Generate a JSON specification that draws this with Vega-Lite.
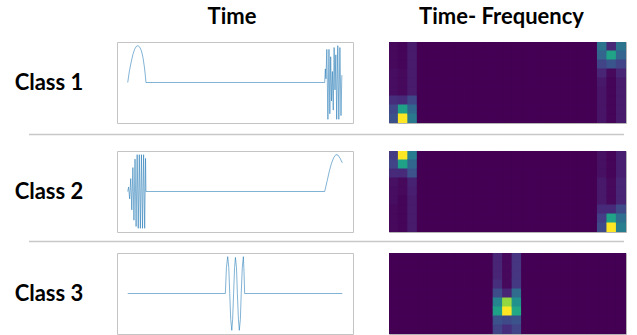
{
"$schema": "https://vega.github.io/schema/vega-lite/v6.json",
"autosize": {"type": "pad"},
"padding": {"left": 0, "top": 5, "right": 0, "bottom": 0},
"background": "white",
"config": {
  "view": {"stroke": "#c4c4c4", "strokeWidth": 1},
  "title": {"font": "Lato", "fontWeight": "bold", "fontSize": 22, "color": "#000000", "offset": 13}
},
"datasets": {
"labels": [{"p":1,"label":"Class 1"},{"p":2,"label":"Class 2"},{"p":3,"label":"Class 3"}],
"series": [
{"p":1,"t":0,"v":0},{"p":1,"t":0.008,"v":0.32},{"p":1,"t":0.016,"v":0.55},{"p":1,"t":0.024,"v":0.76},{"p":1,"t":0.032,"v":0.9},{"p":1,"t":0.04,"v":0.98},{"p":1,"t":0.048,"v":1.0},{"p":1,"t":0.056,"v":0.96},{"p":1,"t":0.064,"v":0.86},{"p":1,"t":0.071,"v":0.68},{"p":1,"t":0.077,"v":0.45},{"p":1,"t":0.081,"v":0.25},{"p":1,"t":0.085,"v":0},{"p":1,"t":0.918,"v":0},
{"p":1,"t":0.921,"v":0.37},{"p":1,"t":0.924,"v":0.1},{"p":1,"t":0.928,"v":0.9},{"p":1,"t":0.933,"v":-1.0},{"p":1,"t":0.938,"v":0.9},{"p":1,"t":0.942,"v":-0.85},{"p":1,"t":0.946,"v":0.7},{"p":1,"t":0.95,"v":-0.5},{"p":1,"t":0.954,"v":0.3},{"p":1,"t":0.958,"v":-0.75},{"p":1,"t":0.962,"v":0.95},{"p":1,"t":0.966,"v":-0.2},{"p":1,"t":0.97,"v":0.75},{"p":1,"t":0.974,"v":-1.0},{"p":1,"t":0.979,"v":1.0},{"p":1,"t":0.984,"v":-1.0},{"p":1,"t":0.989,"v":0.95},{"p":1,"t":0.994,"v":-0.9},{"p":1,"t":0.998,"v":0.2},
{"p":2,"t":0,"v":0},{"p":2,"t":0.004,"v":0.12},{"p":2,"t":0.009,"v":-0.2},{"p":2,"t":0.014,"v":0.35},{"p":2,"t":0.019,"v":-0.5},{"p":2,"t":0.024,"v":0.65},{"p":2,"t":0.029,"v":-0.78},{"p":2,"t":0.034,"v":0.88},{"p":2,"t":0.039,"v":-0.95},{"p":2,"t":0.044,"v":1.0},{"p":2,"t":0.049,"v":-1.0},{"p":2,"t":0.054,"v":1.0},{"p":2,"t":0.059,"v":-1.0},{"p":2,"t":0.064,"v":1.0},{"p":2,"t":0.069,"v":-1.0},{"p":2,"t":0.074,"v":1.0},{"p":2,"t":0.079,"v":-1.0},{"p":2,"t":0.083,"v":0.9},{"p":2,"t":0.085,"v":0},{"p":2,"t":0.918,"v":0},{"p":2,"t":0.93,"v":0.3},{"p":2,"t":0.94,"v":0.56},{"p":2,"t":0.95,"v":0.77},{"p":2,"t":0.96,"v":0.92},{"p":2,"t":0.97,"v":1.0},{"p":2,"t":0.98,"v":0.99},{"p":2,"t":0.99,"v":0.9},{"p":2,"t":1.0,"v":0.78},
{"p":3,"t":0,"v":0},{"p":3,"t":0.455,"v":0},{"p":3,"t":0.46,"v":0.7},{"p":3,"t":0.466,"v":1.0},{"p":3,"t":0.471,"v":0.7},{"p":3,"t":0.4755,"v":0},{"p":3,"t":0.48,"v":-0.7},{"p":3,"t":0.485,"v":-1.0},{"p":3,"t":0.489,"v":-0.7},{"p":3,"t":0.4935,"v":0},{"p":3,"t":0.498,"v":0.7},{"p":3,"t":0.502,"v":0.98},{"p":3,"t":0.507,"v":0.7},{"p":3,"t":0.511,"v":0},{"p":3,"t":0.516,"v":-0.7},{"p":3,"t":0.52,"v":-1.0},{"p":3,"t":0.525,"v":-0.7},{"p":3,"t":0.529,"v":0},{"p":3,"t":0.534,"v":0.7},{"p":3,"t":0.539,"v":1.0},{"p":3,"t":0.542,"v":0.6},{"p":3,"t":0.545,"v":0},{"p":3,"t":1.0,"v":0}
],
"tf": [
{"p":1,"c":0,"r":0,"v":0.02},{"p":1,"c":0,"r":1,"v":0.02},{"p":1,"c":0,"r":2,"v":0.02},{"p":1,"c":0,"r":3,"v":0.03},{"p":1,"c":0,"r":4,"v":0.03},{"p":1,"c":0,"r":5,"v":0.03},{"p":1,"c":0,"r":6,"v":0.13},{"p":1,"c":0,"r":7,"v":0.21},{"p":1,"c":0,"r":8,"v":0.24},
{"p":1,"c":1,"r":0,"v":0.01},{"p":1,"c":1,"r":1,"v":0.01},{"p":1,"c":1,"r":2,"v":0.01},{"p":1,"c":1,"r":3,"v":0.02},{"p":1,"c":1,"r":4,"v":0.02},{"p":1,"c":1,"r":5,"v":0.02},{"p":1,"c":1,"r":6,"v":0.12},{"p":1,"c":1,"r":7,"v":0.57},{"p":1,"c":1,"r":8,"v":1},
{"p":1,"c":2,"r":0,"v":0.07},{"p":1,"c":2,"r":1,"v":0.07},{"p":1,"c":2,"r":2,"v":0.07},{"p":1,"c":2,"r":3,"v":0.07},{"p":1,"c":2,"r":4,"v":0.07},{"p":1,"c":2,"r":5,"v":0.07},{"p":1,"c":2,"r":6,"v":0.21},{"p":1,"c":2,"r":7,"v":0.33},{"p":1,"c":2,"r":8,"v":0.4},
{"p":1,"c":3,"r":0,"v":0},{"p":1,"c":3,"r":1,"v":0},{"p":1,"c":3,"r":2,"v":0},{"p":1,"c":3,"r":3,"v":0},{"p":1,"c":3,"r":4,"v":0},{"p":1,"c":3,"r":5,"v":0},{"p":1,"c":3,"r":6,"v":0},{"p":1,"c":3,"r":7,"v":0},{"p":1,"c":3,"r":8,"v":0},
{"p":1,"c":4,"r":0,"v":0},{"p":1,"c":4,"r":1,"v":0},{"p":1,"c":4,"r":2,"v":0},{"p":1,"c":4,"r":3,"v":0},{"p":1,"c":4,"r":4,"v":0},{"p":1,"c":4,"r":5,"v":0},{"p":1,"c":4,"r":6,"v":0},{"p":1,"c":4,"r":7,"v":0},{"p":1,"c":4,"r":8,"v":0},
{"p":1,"c":5,"r":0,"v":0},{"p":1,"c":5,"r":1,"v":0},{"p":1,"c":5,"r":2,"v":0},{"p":1,"c":5,"r":3,"v":0},{"p":1,"c":5,"r":4,"v":0},{"p":1,"c":5,"r":5,"v":0},{"p":1,"c":5,"r":6,"v":0},{"p":1,"c":5,"r":7,"v":0},{"p":1,"c":5,"r":8,"v":0},
{"p":1,"c":6,"r":0,"v":0},{"p":1,"c":6,"r":1,"v":0},{"p":1,"c":6,"r":2,"v":0},{"p":1,"c":6,"r":3,"v":0},{"p":1,"c":6,"r":4,"v":0},{"p":1,"c":6,"r":5,"v":0},{"p":1,"c":6,"r":6,"v":0},{"p":1,"c":6,"r":7,"v":0},{"p":1,"c":6,"r":8,"v":0},
{"p":1,"c":7,"r":0,"v":0},{"p":1,"c":7,"r":1,"v":0},{"p":1,"c":7,"r":2,"v":0},{"p":1,"c":7,"r":3,"v":0},{"p":1,"c":7,"r":4,"v":0},{"p":1,"c":7,"r":5,"v":0},{"p":1,"c":7,"r":6,"v":0},{"p":1,"c":7,"r":7,"v":0},{"p":1,"c":7,"r":8,"v":0},
{"p":1,"c":8,"r":0,"v":0},{"p":1,"c":8,"r":1,"v":0},{"p":1,"c":8,"r":2,"v":0},{"p":1,"c":8,"r":3,"v":0},{"p":1,"c":8,"r":4,"v":0},{"p":1,"c":8,"r":5,"v":0},{"p":1,"c":8,"r":6,"v":0},{"p":1,"c":8,"r":7,"v":0},{"p":1,"c":8,"r":8,"v":0},
{"p":1,"c":9,"r":0,"v":0},{"p":1,"c":9,"r":1,"v":0},{"p":1,"c":9,"r":2,"v":0},{"p":1,"c":9,"r":3,"v":0},{"p":1,"c":9,"r":4,"v":0},{"p":1,"c":9,"r":5,"v":0},{"p":1,"c":9,"r":6,"v":0},{"p":1,"c":9,"r":7,"v":0},{"p":1,"c":9,"r":8,"v":0},
{"p":1,"c":10,"r":0,"v":0},{"p":1,"c":10,"r":1,"v":0},{"p":1,"c":10,"r":2,"v":0},{"p":1,"c":10,"r":3,"v":0},{"p":1,"c":10,"r":4,"v":0},{"p":1,"c":10,"r":5,"v":0},{"p":1,"c":10,"r":6,"v":0},{"p":1,"c":10,"r":7,"v":0},{"p":1,"c":10,"r":8,"v":0},
{"p":1,"c":11,"r":0,"v":0},{"p":1,"c":11,"r":1,"v":0},{"p":1,"c":11,"r":2,"v":0},{"p":1,"c":11,"r":3,"v":0},{"p":1,"c":11,"r":4,"v":0},{"p":1,"c":11,"r":5,"v":0},{"p":1,"c":11,"r":6,"v":0},{"p":1,"c":11,"r":7,"v":0},{"p":1,"c":11,"r":8,"v":0},
{"p":1,"c":12,"r":0,"v":0},{"p":1,"c":12,"r":1,"v":0},{"p":1,"c":12,"r":2,"v":0},{"p":1,"c":12,"r":3,"v":0},{"p":1,"c":12,"r":4,"v":0},{"p":1,"c":12,"r":5,"v":0},{"p":1,"c":12,"r":6,"v":0},{"p":1,"c":12,"r":7,"v":0},{"p":1,"c":12,"r":8,"v":0},
{"p":1,"c":13,"r":0,"v":0},{"p":1,"c":13,"r":1,"v":0},{"p":1,"c":13,"r":2,"v":0},{"p":1,"c":13,"r":3,"v":0},{"p":1,"c":13,"r":4,"v":0},{"p":1,"c":13,"r":5,"v":0},{"p":1,"c":13,"r":6,"v":0},{"p":1,"c":13,"r":7,"v":0},{"p":1,"c":13,"r":8,"v":0},
{"p":1,"c":14,"r":0,"v":0},{"p":1,"c":14,"r":1,"v":0},{"p":1,"c":14,"r":2,"v":0},{"p":1,"c":14,"r":3,"v":0},{"p":1,"c":14,"r":4,"v":0},{"p":1,"c":14,"r":5,"v":0},{"p":1,"c":14,"r":6,"v":0},{"p":1,"c":14,"r":7,"v":0},{"p":1,"c":14,"r":8,"v":0},
{"p":1,"c":15,"r":0,"v":0},{"p":1,"c":15,"r":1,"v":0},{"p":1,"c":15,"r":2,"v":0},{"p":1,"c":15,"r":3,"v":0},{"p":1,"c":15,"r":4,"v":0},{"p":1,"c":15,"r":5,"v":0},{"p":1,"c":15,"r":6,"v":0},{"p":1,"c":15,"r":7,"v":0},{"p":1,"c":15,"r":8,"v":0},
{"p":1,"c":16,"r":0,"v":0},{"p":1,"c":16,"r":1,"v":0},{"p":1,"c":16,"r":2,"v":0},{"p":1,"c":16,"r":3,"v":0},{"p":1,"c":16,"r":4,"v":0},{"p":1,"c":16,"r":5,"v":0},{"p":1,"c":16,"r":6,"v":0},{"p":1,"c":16,"r":7,"v":0},{"p":1,"c":16,"r":8,"v":0},
{"p":1,"c":17,"r":0,"v":0},{"p":1,"c":17,"r":1,"v":0},{"p":1,"c":17,"r":2,"v":0},{"p":1,"c":17,"r":3,"v":0},{"p":1,"c":17,"r":4,"v":0},{"p":1,"c":17,"r":5,"v":0},{"p":1,"c":17,"r":6,"v":0},{"p":1,"c":17,"r":7,"v":0},{"p":1,"c":17,"r":8,"v":0},
{"p":1,"c":18,"r":0,"v":0},{"p":1,"c":18,"r":1,"v":0},{"p":1,"c":18,"r":2,"v":0},{"p":1,"c":18,"r":3,"v":0},{"p":1,"c":18,"r":4,"v":0},{"p":1,"c":18,"r":5,"v":0},{"p":1,"c":18,"r":6,"v":0},{"p":1,"c":18,"r":7,"v":0},{"p":1,"c":18,"r":8,"v":0},
{"p":1,"c":19,"r":0,"v":0},{"p":1,"c":19,"r":1,"v":0},{"p":1,"c":19,"r":2,"v":0},{"p":1,"c":19,"r":3,"v":0},{"p":1,"c":19,"r":4,"v":0},{"p":1,"c":19,"r":5,"v":0},{"p":1,"c":19,"r":6,"v":0},{"p":1,"c":19,"r":7,"v":0},{"p":1,"c":19,"r":8,"v":0},
{"p":1,"c":20,"r":0,"v":0},{"p":1,"c":20,"r":1,"v":0},{"p":1,"c":20,"r":2,"v":0},{"p":1,"c":20,"r":3,"v":0},{"p":1,"c":20,"r":4,"v":0},{"p":1,"c":20,"r":5,"v":0},{"p":1,"c":20,"r":6,"v":0},{"p":1,"c":20,"r":7,"v":0},{"p":1,"c":20,"r":8,"v":0},
{"p":1,"c":21,"r":0,"v":0},{"p":1,"c":21,"r":1,"v":0},{"p":1,"c":21,"r":2,"v":0},{"p":1,"c":21,"r":3,"v":0},{"p":1,"c":21,"r":4,"v":0},{"p":1,"c":21,"r":5,"v":0},{"p":1,"c":21,"r":6,"v":0},{"p":1,"c":21,"r":7,"v":0},{"p":1,"c":21,"r":8,"v":0},
{"p":1,"c":22,"r":0,"v":0.38},{"p":1,"c":22,"r":1,"v":0.32},{"p":1,"c":22,"r":2,"v":0.2},{"p":1,"c":22,"r":3,"v":0.1},{"p":1,"c":22,"r":4,"v":0.06},{"p":1,"c":22,"r":5,"v":0.05},{"p":1,"c":22,"r":6,"v":0.05},{"p":1,"c":22,"r":7,"v":0.05},{"p":1,"c":22,"r":8,"v":0.05},
{"p":1,"c":23,"r":0,"v":0.11},{"p":1,"c":23,"r":1,"v":0.58},{"p":1,"c":23,"r":2,"v":0.26},{"p":1,"c":23,"r":3,"v":0.02},{"p":1,"c":23,"r":4,"v":0.01},{"p":1,"c":23,"r":5,"v":0.01},{"p":1,"c":23,"r":6,"v":0.01},{"p":1,"c":23,"r":7,"v":0.01},{"p":1,"c":23,"r":8,"v":0.01},
{"p":1,"c":24,"r":0,"v":0.38},{"p":1,"c":24,"r":1,"v":0.32},{"p":1,"c":24,"r":2,"v":0.2},{"p":1,"c":24,"r":3,"v":0.1},{"p":1,"c":24,"r":4,"v":0.07},{"p":1,"c":24,"r":5,"v":0.07},{"p":1,"c":24,"r":6,"v":0.07},{"p":1,"c":24,"r":7,"v":0.07},{"p":1,"c":24,"r":8,"v":0.07},

{"p":2,"c":0,"r":0,"v":0.17},{"p":2,"c":0,"r":1,"v":0.2},{"p":2,"c":0,"r":2,"v":0.12},{"p":2,"c":0,"r":3,"v":0.04},{"p":2,"c":0,"r":4,"v":0.03},{"p":2,"c":0,"r":5,"v":0.03},{"p":2,"c":0,"r":6,"v":0.02},{"p":2,"c":0,"r":7,"v":0.02},{"p":2,"c":0,"r":8,"v":0.02},
{"p":2,"c":1,"r":0,"v":1},{"p":2,"c":1,"r":1,"v":0.57},{"p":2,"c":1,"r":2,"v":0.12},{"p":2,"c":1,"r":3,"v":0.02},{"p":2,"c":1,"r":4,"v":0.02},{"p":2,"c":1,"r":5,"v":0.01},{"p":2,"c":1,"r":6,"v":0.01},{"p":2,"c":1,"r":7,"v":0.01},{"p":2,"c":1,"r":8,"v":0.01},
{"p":2,"c":2,"r":0,"v":0.42},{"p":2,"c":2,"r":1,"v":0.33},{"p":2,"c":2,"r":2,"v":0.25},{"p":2,"c":2,"r":3,"v":0.09},{"p":2,"c":2,"r":4,"v":0.08},{"p":2,"c":2,"r":5,"v":0.07},{"p":2,"c":2,"r":6,"v":0.07},{"p":2,"c":2,"r":7,"v":0.07},{"p":2,"c":2,"r":8,"v":0.07},
{"p":2,"c":3,"r":0,"v":0},{"p":2,"c":3,"r":1,"v":0},{"p":2,"c":3,"r":2,"v":0},{"p":2,"c":3,"r":3,"v":0},{"p":2,"c":3,"r":4,"v":0},{"p":2,"c":3,"r":5,"v":0},{"p":2,"c":3,"r":6,"v":0},{"p":2,"c":3,"r":7,"v":0},{"p":2,"c":3,"r":8,"v":0},
{"p":2,"c":4,"r":0,"v":0},{"p":2,"c":4,"r":1,"v":0},{"p":2,"c":4,"r":2,"v":0},{"p":2,"c":4,"r":3,"v":0},{"p":2,"c":4,"r":4,"v":0},{"p":2,"c":4,"r":5,"v":0},{"p":2,"c":4,"r":6,"v":0},{"p":2,"c":4,"r":7,"v":0},{"p":2,"c":4,"r":8,"v":0},
{"p":2,"c":5,"r":0,"v":0},{"p":2,"c":5,"r":1,"v":0},{"p":2,"c":5,"r":2,"v":0},{"p":2,"c":5,"r":3,"v":0},{"p":2,"c":5,"r":4,"v":0},{"p":2,"c":5,"r":5,"v":0},{"p":2,"c":5,"r":6,"v":0},{"p":2,"c":5,"r":7,"v":0},{"p":2,"c":5,"r":8,"v":0},
{"p":2,"c":6,"r":0,"v":0},{"p":2,"c":6,"r":1,"v":0},{"p":2,"c":6,"r":2,"v":0},{"p":2,"c":6,"r":3,"v":0},{"p":2,"c":6,"r":4,"v":0},{"p":2,"c":6,"r":5,"v":0},{"p":2,"c":6,"r":6,"v":0},{"p":2,"c":6,"r":7,"v":0},{"p":2,"c":6,"r":8,"v":0},
{"p":2,"c":7,"r":0,"v":0},{"p":2,"c":7,"r":1,"v":0},{"p":2,"c":7,"r":2,"v":0},{"p":2,"c":7,"r":3,"v":0},{"p":2,"c":7,"r":4,"v":0},{"p":2,"c":7,"r":5,"v":0},{"p":2,"c":7,"r":6,"v":0},{"p":2,"c":7,"r":7,"v":0},{"p":2,"c":7,"r":8,"v":0},
{"p":2,"c":8,"r":0,"v":0},{"p":2,"c":8,"r":1,"v":0},{"p":2,"c":8,"r":2,"v":0},{"p":2,"c":8,"r":3,"v":0},{"p":2,"c":8,"r":4,"v":0},{"p":2,"c":8,"r":5,"v":0},{"p":2,"c":8,"r":6,"v":0},{"p":2,"c":8,"r":7,"v":0},{"p":2,"c":8,"r":8,"v":0},
{"p":2,"c":9,"r":0,"v":0},{"p":2,"c":9,"r":1,"v":0},{"p":2,"c":9,"r":2,"v":0},{"p":2,"c":9,"r":3,"v":0},{"p":2,"c":9,"r":4,"v":0},{"p":2,"c":9,"r":5,"v":0},{"p":2,"c":9,"r":6,"v":0},{"p":2,"c":9,"r":7,"v":0},{"p":2,"c":9,"r":8,"v":0},
{"p":2,"c":10,"r":0,"v":0},{"p":2,"c":10,"r":1,"v":0},{"p":2,"c":10,"r":2,"v":0},{"p":2,"c":10,"r":3,"v":0},{"p":2,"c":10,"r":4,"v":0},{"p":2,"c":10,"r":5,"v":0},{"p":2,"c":10,"r":6,"v":0},{"p":2,"c":10,"r":7,"v":0},{"p":2,"c":10,"r":8,"v":0},
{"p":2,"c":11,"r":0,"v":0},{"p":2,"c":11,"r":1,"v":0},{"p":2,"c":11,"r":2,"v":0},{"p":2,"c":11,"r":3,"v":0},{"p":2,"c":11,"r":4,"v":0},{"p":2,"c":11,"r":5,"v":0},{"p":2,"c":11,"r":6,"v":0},{"p":2,"c":11,"r":7,"v":0},{"p":2,"c":11,"r":8,"v":0},
{"p":2,"c":12,"r":0,"v":0},{"p":2,"c":12,"r":1,"v":0},{"p":2,"c":12,"r":2,"v":0},{"p":2,"c":12,"r":3,"v":0},{"p":2,"c":12,"r":4,"v":0},{"p":2,"c":12,"r":5,"v":0},{"p":2,"c":12,"r":6,"v":0},{"p":2,"c":12,"r":7,"v":0},{"p":2,"c":12,"r":8,"v":0},
{"p":2,"c":13,"r":0,"v":0},{"p":2,"c":13,"r":1,"v":0},{"p":2,"c":13,"r":2,"v":0},{"p":2,"c":13,"r":3,"v":0},{"p":2,"c":13,"r":4,"v":0},{"p":2,"c":13,"r":5,"v":0},{"p":2,"c":13,"r":6,"v":0},{"p":2,"c":13,"r":7,"v":0},{"p":2,"c":13,"r":8,"v":0},
{"p":2,"c":14,"r":0,"v":0},{"p":2,"c":14,"r":1,"v":0},{"p":2,"c":14,"r":2,"v":0},{"p":2,"c":14,"r":3,"v":0},{"p":2,"c":14,"r":4,"v":0},{"p":2,"c":14,"r":5,"v":0},{"p":2,"c":14,"r":6,"v":0},{"p":2,"c":14,"r":7,"v":0},{"p":2,"c":14,"r":8,"v":0},
{"p":2,"c":15,"r":0,"v":0},{"p":2,"c":15,"r":1,"v":0},{"p":2,"c":15,"r":2,"v":0},{"p":2,"c":15,"r":3,"v":0},{"p":2,"c":15,"r":4,"v":0},{"p":2,"c":15,"r":5,"v":0},{"p":2,"c":15,"r":6,"v":0},{"p":2,"c":15,"r":7,"v":0},{"p":2,"c":15,"r":8,"v":0},
{"p":2,"c":16,"r":0,"v":0},{"p":2,"c":16,"r":1,"v":0},{"p":2,"c":16,"r":2,"v":0},{"p":2,"c":16,"r":3,"v":0},{"p":2,"c":16,"r":4,"v":0},{"p":2,"c":16,"r":5,"v":0},{"p":2,"c":16,"r":6,"v":0},{"p":2,"c":16,"r":7,"v":0},{"p":2,"c":16,"r":8,"v":0},
{"p":2,"c":17,"r":0,"v":0},{"p":2,"c":17,"r":1,"v":0},{"p":2,"c":17,"r":2,"v":0},{"p":2,"c":17,"r":3,"v":0},{"p":2,"c":17,"r":4,"v":0},{"p":2,"c":17,"r":5,"v":0},{"p":2,"c":17,"r":6,"v":0},{"p":2,"c":17,"r":7,"v":0},{"p":2,"c":17,"r":8,"v":0},
{"p":2,"c":18,"r":0,"v":0},{"p":2,"c":18,"r":1,"v":0},{"p":2,"c":18,"r":2,"v":0},{"p":2,"c":18,"r":3,"v":0},{"p":2,"c":18,"r":4,"v":0},{"p":2,"c":18,"r":5,"v":0},{"p":2,"c":18,"r":6,"v":0},{"p":2,"c":18,"r":7,"v":0},{"p":2,"c":18,"r":8,"v":0},
{"p":2,"c":19,"r":0,"v":0},{"p":2,"c":19,"r":1,"v":0},{"p":2,"c":19,"r":2,"v":0},{"p":2,"c":19,"r":3,"v":0},{"p":2,"c":19,"r":4,"v":0},{"p":2,"c":19,"r":5,"v":0},{"p":2,"c":19,"r":6,"v":0},{"p":2,"c":19,"r":7,"v":0},{"p":2,"c":19,"r":8,"v":0},
{"p":2,"c":20,"r":0,"v":0},{"p":2,"c":20,"r":1,"v":0},{"p":2,"c":20,"r":2,"v":0},{"p":2,"c":20,"r":3,"v":0},{"p":2,"c":20,"r":4,"v":0},{"p":2,"c":20,"r":5,"v":0},{"p":2,"c":20,"r":6,"v":0},{"p":2,"c":20,"r":7,"v":0},{"p":2,"c":20,"r":8,"v":0},
{"p":2,"c":21,"r":0,"v":0},{"p":2,"c":21,"r":1,"v":0},{"p":2,"c":21,"r":2,"v":0},{"p":2,"c":21,"r":3,"v":0},{"p":2,"c":21,"r":4,"v":0},{"p":2,"c":21,"r":5,"v":0},{"p":2,"c":21,"r":6,"v":0},{"p":2,"c":21,"r":7,"v":0},{"p":2,"c":21,"r":8,"v":0},
{"p":2,"c":22,"r":0,"v":0.04},{"p":2,"c":22,"r":1,"v":0.04},{"p":2,"c":22,"r":2,"v":0.04},{"p":2,"c":22,"r":3,"v":0.06},{"p":2,"c":22,"r":4,"v":0.06},{"p":2,"c":22,"r":5,"v":0.06},{"p":2,"c":22,"r":6,"v":0.12},{"p":2,"c":22,"r":7,"v":0.18},{"p":2,"c":22,"r":8,"v":0.22},
{"p":2,"c":23,"r":0,"v":0.01},{"p":2,"c":23,"r":1,"v":0.01},{"p":2,"c":23,"r":2,"v":0.01},{"p":2,"c":23,"r":3,"v":0.02},{"p":2,"c":23,"r":4,"v":0.02},{"p":2,"c":23,"r":5,"v":0.02},{"p":2,"c":23,"r":6,"v":0.12},{"p":2,"c":23,"r":7,"v":0.58},{"p":2,"c":23,"r":8,"v":1},
{"p":2,"c":24,"r":0,"v":0.08},{"p":2,"c":24,"r":1,"v":0.08},{"p":2,"c":24,"r":2,"v":0.08},{"p":2,"c":24,"r":3,"v":0.1},{"p":2,"c":24,"r":4,"v":0.1},{"p":2,"c":24,"r":5,"v":0.1},{"p":2,"c":24,"r":6,"v":0.22},{"p":2,"c":24,"r":7,"v":0.36},{"p":2,"c":24,"r":8,"v":0.42},

{"p":3,"c":0,"r":0,"v":0},{"p":3,"c":0,"r":1,"v":0},{"p":3,"c":0,"r":2,"v":0},{"p":3,"c":0,"r":3,"v":0},{"p":3,"c":0,"r":4,"v":0},{"p":3,"c":0,"r":5,"v":0},{"p":3,"c":0,"r":6,"v":0},{"p":3,"c":0,"r":7,"v":0},{"p":3,"c":0,"r":8,"v":0},
{"p":3,"c":1,"r":0,"v":0},{"p":3,"c":1,"r":1,"v":0},{"p":3,"c":1,"r":2,"v":0},{"p":3,"c":1,"r":3,"v":0},{"p":3,"c":1,"r":4,"v":0},{"p":3,"c":1,"r":5,"v":0},{"p":3,"c":1,"r":6,"v":0},{"p":3,"c":1,"r":7,"v":0},{"p":3,"c":1,"r":8,"v":0},
{"p":3,"c":2,"r":0,"v":0},{"p":3,"c":2,"r":1,"v":0},{"p":3,"c":2,"r":2,"v":0},{"p":3,"c":2,"r":3,"v":0},{"p":3,"c":2,"r":4,"v":0},{"p":3,"c":2,"r":5,"v":0},{"p":3,"c":2,"r":6,"v":0},{"p":3,"c":2,"r":7,"v":0},{"p":3,"c":2,"r":8,"v":0},
{"p":3,"c":3,"r":0,"v":0},{"p":3,"c":3,"r":1,"v":0},{"p":3,"c":3,"r":2,"v":0},{"p":3,"c":3,"r":3,"v":0},{"p":3,"c":3,"r":4,"v":0},{"p":3,"c":3,"r":5,"v":0},{"p":3,"c":3,"r":6,"v":0},{"p":3,"c":3,"r":7,"v":0},{"p":3,"c":3,"r":8,"v":0},
{"p":3,"c":4,"r":0,"v":0},{"p":3,"c":4,"r":1,"v":0},{"p":3,"c":4,"r":2,"v":0},{"p":3,"c":4,"r":3,"v":0},{"p":3,"c":4,"r":4,"v":0},{"p":3,"c":4,"r":5,"v":0},{"p":3,"c":4,"r":6,"v":0},{"p":3,"c":4,"r":7,"v":0},{"p":3,"c":4,"r":8,"v":0},
{"p":3,"c":5,"r":0,"v":0},{"p":3,"c":5,"r":1,"v":0},{"p":3,"c":5,"r":2,"v":0},{"p":3,"c":5,"r":3,"v":0},{"p":3,"c":5,"r":4,"v":0},{"p":3,"c":5,"r":5,"v":0},{"p":3,"c":5,"r":6,"v":0},{"p":3,"c":5,"r":7,"v":0},{"p":3,"c":5,"r":8,"v":0},
{"p":3,"c":6,"r":0,"v":0},{"p":3,"c":6,"r":1,"v":0},{"p":3,"c":6,"r":2,"v":0},{"p":3,"c":6,"r":3,"v":0},{"p":3,"c":6,"r":4,"v":0},{"p":3,"c":6,"r":5,"v":0},{"p":3,"c":6,"r":6,"v":0},{"p":3,"c":6,"r":7,"v":0},{"p":3,"c":6,"r":8,"v":0},
{"p":3,"c":7,"r":0,"v":0},{"p":3,"c":7,"r":1,"v":0},{"p":3,"c":7,"r":2,"v":0},{"p":3,"c":7,"r":3,"v":0},{"p":3,"c":7,"r":4,"v":0},{"p":3,"c":7,"r":5,"v":0},{"p":3,"c":7,"r":6,"v":0},{"p":3,"c":7,"r":7,"v":0},{"p":3,"c":7,"r":8,"v":0},
{"p":3,"c":8,"r":0,"v":0},{"p":3,"c":8,"r":1,"v":0},{"p":3,"c":8,"r":2,"v":0},{"p":3,"c":8,"r":3,"v":0},{"p":3,"c":8,"r":4,"v":0},{"p":3,"c":8,"r":5,"v":0},{"p":3,"c":8,"r":6,"v":0},{"p":3,"c":8,"r":7,"v":0},{"p":3,"c":8,"r":8,"v":0},
{"p":3,"c":9,"r":0,"v":0},{"p":3,"c":9,"r":1,"v":0},{"p":3,"c":9,"r":2,"v":0},{"p":3,"c":9,"r":3,"v":0},{"p":3,"c":9,"r":4,"v":0},{"p":3,"c":9,"r":5,"v":0},{"p":3,"c":9,"r":6,"v":0},{"p":3,"c":9,"r":7,"v":0},{"p":3,"c":9,"r":8,"v":0},
{"p":3,"c":10,"r":0,"v":0},{"p":3,"c":10,"r":1,"v":0},{"p":3,"c":10,"r":2,"v":0},{"p":3,"c":10,"r":3,"v":0},{"p":3,"c":10,"r":4,"v":0},{"p":3,"c":10,"r":5,"v":0},{"p":3,"c":10,"r":6,"v":0},{"p":3,"c":10,"r":7,"v":0},{"p":3,"c":10,"r":8,"v":0},
{"p":3,"c":11,"r":0,"v":0.1},{"p":3,"c":11,"r":1,"v":0.1},{"p":3,"c":11,"r":2,"v":0.1},{"p":3,"c":11,"r":3,"v":0.13},{"p":3,"c":11,"r":4,"v":0.23},{"p":3,"c":11,"r":5,"v":0.45},{"p":3,"c":11,"r":6,"v":0.57},{"p":3,"c":11,"r":7,"v":0.25},{"p":3,"c":11,"r":8,"v":0.2},
{"p":3,"c":12,"r":0,"v":0.02},{"p":3,"c":12,"r":1,"v":0.02},{"p":3,"c":12,"r":2,"v":0.02},{"p":3,"c":12,"r":3,"v":0.02},{"p":3,"c":12,"r":4,"v":0.1},{"p":3,"c":12,"r":5,"v":0.84},{"p":3,"c":12,"r":6,"v":1},{"p":3,"c":12,"r":7,"v":0.22},{"p":3,"c":12,"r":8,"v":0.13},
{"p":3,"c":13,"r":0,"v":0.15},{"p":3,"c":13,"r":1,"v":0.15},{"p":3,"c":13,"r":2,"v":0.15},{"p":3,"c":13,"r":3,"v":0.16},{"p":3,"c":13,"r":4,"v":0.35},{"p":3,"c":13,"r":5,"v":0.5},{"p":3,"c":13,"r":6,"v":0.6},{"p":3,"c":13,"r":7,"v":0.25},{"p":3,"c":13,"r":8,"v":0.2},
{"p":3,"c":14,"r":0,"v":0},{"p":3,"c":14,"r":1,"v":0},{"p":3,"c":14,"r":2,"v":0},{"p":3,"c":14,"r":3,"v":0},{"p":3,"c":14,"r":4,"v":0},{"p":3,"c":14,"r":5,"v":0},{"p":3,"c":14,"r":6,"v":0},{"p":3,"c":14,"r":7,"v":0},{"p":3,"c":14,"r":8,"v":0},
{"p":3,"c":15,"r":0,"v":0},{"p":3,"c":15,"r":1,"v":0},{"p":3,"c":15,"r":2,"v":0},{"p":3,"c":15,"r":3,"v":0},{"p":3,"c":15,"r":4,"v":0},{"p":3,"c":15,"r":5,"v":0},{"p":3,"c":15,"r":6,"v":0},{"p":3,"c":15,"r":7,"v":0},{"p":3,"c":15,"r":8,"v":0},
{"p":3,"c":16,"r":0,"v":0},{"p":3,"c":16,"r":1,"v":0},{"p":3,"c":16,"r":2,"v":0},{"p":3,"c":16,"r":3,"v":0},{"p":3,"c":16,"r":4,"v":0},{"p":3,"c":16,"r":5,"v":0},{"p":3,"c":16,"r":6,"v":0},{"p":3,"c":16,"r":7,"v":0},{"p":3,"c":16,"r":8,"v":0},
{"p":3,"c":17,"r":0,"v":0},{"p":3,"c":17,"r":1,"v":0},{"p":3,"c":17,"r":2,"v":0},{"p":3,"c":17,"r":3,"v":0},{"p":3,"c":17,"r":4,"v":0},{"p":3,"c":17,"r":5,"v":0},{"p":3,"c":17,"r":6,"v":0},{"p":3,"c":17,"r":7,"v":0},{"p":3,"c":17,"r":8,"v":0},
{"p":3,"c":18,"r":0,"v":0},{"p":3,"c":18,"r":1,"v":0},{"p":3,"c":18,"r":2,"v":0},{"p":3,"c":18,"r":3,"v":0},{"p":3,"c":18,"r":4,"v":0},{"p":3,"c":18,"r":5,"v":0},{"p":3,"c":18,"r":6,"v":0},{"p":3,"c":18,"r":7,"v":0},{"p":3,"c":18,"r":8,"v":0},
{"p":3,"c":19,"r":0,"v":0},{"p":3,"c":19,"r":1,"v":0},{"p":3,"c":19,"r":2,"v":0},{"p":3,"c":19,"r":3,"v":0},{"p":3,"c":19,"r":4,"v":0},{"p":3,"c":19,"r":5,"v":0},{"p":3,"c":19,"r":6,"v":0},{"p":3,"c":19,"r":7,"v":0},{"p":3,"c":19,"r":8,"v":0},
{"p":3,"c":20,"r":0,"v":0},{"p":3,"c":20,"r":1,"v":0},{"p":3,"c":20,"r":2,"v":0},{"p":3,"c":20,"r":3,"v":0},{"p":3,"c":20,"r":4,"v":0},{"p":3,"c":20,"r":5,"v":0},{"p":3,"c":20,"r":6,"v":0},{"p":3,"c":20,"r":7,"v":0},{"p":3,"c":20,"r":8,"v":0},
{"p":3,"c":21,"r":0,"v":0},{"p":3,"c":21,"r":1,"v":0},{"p":3,"c":21,"r":2,"v":0},{"p":3,"c":21,"r":3,"v":0},{"p":3,"c":21,"r":4,"v":0},{"p":3,"c":21,"r":5,"v":0},{"p":3,"c":21,"r":6,"v":0},{"p":3,"c":21,"r":7,"v":0},{"p":3,"c":21,"r":8,"v":0},
{"p":3,"c":22,"r":0,"v":0},{"p":3,"c":22,"r":1,"v":0},{"p":3,"c":22,"r":2,"v":0},{"p":3,"c":22,"r":3,"v":0},{"p":3,"c":22,"r":4,"v":0},{"p":3,"c":22,"r":5,"v":0},{"p":3,"c":22,"r":6,"v":0},{"p":3,"c":22,"r":7,"v":0},{"p":3,"c":22,"r":8,"v":0},
{"p":3,"c":23,"r":0,"v":0},{"p":3,"c":23,"r":1,"v":0},{"p":3,"c":23,"r":2,"v":0},{"p":3,"c":23,"r":3,"v":0},{"p":3,"c":23,"r":4,"v":0},{"p":3,"c":23,"r":5,"v":0},{"p":3,"c":23,"r":6,"v":0},{"p":3,"c":23,"r":7,"v":0},{"p":3,"c":23,"r":8,"v":0},
{"p":3,"c":24,"r":0,"v":0},{"p":3,"c":24,"r":1,"v":0},{"p":3,"c":24,"r":2,"v":0},{"p":3,"c":24,"r":3,"v":0},{"p":3,"c":24,"r":4,"v":0},{"p":3,"c":24,"r":5,"v":0},{"p":3,"c":24,"r":6,"v":0},{"p":3,"c":24,"r":7,"v":0},{"p":3,"c":24,"r":8,"v":0}
]
},
"spacing": 0,
"vconcat": [
{"spacing": 18, "hconcat": [
  {"width": 98, "height": 81, "view": {"stroke": null}, "data": {"name": "labels"}, "transform": [{"filter": "datum.p == 1"}], "mark": {"type": "text", "font": "Lato", "fontWeight": "bold", "fontSize": 22, "color": "#000000"}, "encoding": {"text": {"field": "label", "type": "nominal"}}},
  {"spacing": 34, "hconcat": [
    {"width": 236, "height": 81, "title": {"text": "Time", "dx": -3}, "data": {"name": "series"}, "transform": [{"filter": "datum.p == 1"}], "mark": {"type": "line", "color": "#1f77b4", "strokeWidth": 0.7, "opacity": 0.8}, "encoding": {"x": {"field": "t", "type": "quantitative", "axis": null, "scale": {"domain": [-0.05, 1.05], "nice": false, "zero": false}}, "y": {"field": "v", "type": "quantitative", "axis": null, "scale": {"domain": [-1.1, 1.1], "nice": false, "zero": false}}}},
    {"width": 237, "height": 81, "title": {"text": "Time- Frequency", "dx": -6}, "view": {"stroke": "#b4b4b4"}, "data": {"name": "tf"}, "transform": [{"filter": "datum.p == 1"}], "mark": {"type": "rect", "strokeWidth": 1.2, "clip": true}, "encoding": {"x": {"field": "c", "type": "ordinal", "axis": null, "scale": {"paddingInner": 0, "paddingOuter": 0}}, "y": {"field": "r", "type": "ordinal", "axis": null, "scale": {"paddingInner": 0, "paddingOuter": 0}}, "color": {"field": "v", "type": "quantitative", "scale": {"scheme": "viridis", "domain": [0, 1]}, "legend": null}, "stroke": {"field": "v", "type": "quantitative", "scale": {"scheme": "viridis", "domain": [0, 1]}, "legend": null}}}
  ]}
]},
{"spacing": 0, "hconcat": [
  {"width": 28, "height": 26, "view": {"stroke": null}, "data": {"values": [{}]}, "mark": {"type": "text", "text": ""}, "encoding": {}},
  {"width": 595, "height": 26, "view": {"stroke": null}, "data": {"values": [{}]}, "mark": {"type": "rule", "color": "#c8c8c8", "strokeWidth": 1.5}, "encoding": {"y": {"datum": 0.6, "type": "quantitative", "scale": {"domain": [0, 1]}, "axis": null}}}
]},
{"spacing": 18, "hconcat": [
  {"width": 98, "height": 81, "view": {"stroke": null}, "data": {"name": "labels"}, "transform": [{"filter": "datum.p == 2"}], "mark": {"type": "text", "font": "Lato", "fontWeight": "bold", "fontSize": 22, "color": "#000000"}, "encoding": {"text": {"field": "label", "type": "nominal"}}},
  {"spacing": 34, "hconcat": [
    {"width": 236, "height": 81, "data": {"name": "series"}, "transform": [{"filter": "datum.p == 2"}], "mark": {"type": "line", "color": "#1f77b4", "strokeWidth": 0.7, "opacity": 0.8}, "encoding": {"x": {"field": "t", "type": "quantitative", "axis": null, "scale": {"domain": [-0.05, 1.05], "nice": false, "zero": false}}, "y": {"field": "v", "type": "quantitative", "axis": null, "scale": {"domain": [-1.1, 1.1], "nice": false, "zero": false}}}},
    {"width": 237, "height": 81, "view": {"stroke": "#b4b4b4"}, "data": {"name": "tf"}, "transform": [{"filter": "datum.p == 2"}], "mark": {"type": "rect", "strokeWidth": 1.2, "clip": true}, "encoding": {"x": {"field": "c", "type": "ordinal", "axis": null, "scale": {"paddingInner": 0, "paddingOuter": 0}}, "y": {"field": "r", "type": "ordinal", "axis": null, "scale": {"paddingInner": 0, "paddingOuter": 0}}, "color": {"field": "v", "type": "quantitative", "scale": {"scheme": "viridis", "domain": [0, 1]}, "legend": null}, "stroke": {"field": "v", "type": "quantitative", "scale": {"scheme": "viridis", "domain": [0, 1]}, "legend": null}}}
  ]}
]},
{"spacing": 0, "hconcat": [
  {"width": 28, "height": 19, "view": {"stroke": null}, "data": {"values": [{}]}, "mark": {"type": "text", "text": ""}, "encoding": {}},
  {"width": 595, "height": 19, "view": {"stroke": null}, "data": {"values": [{}]}, "mark": {"type": "rule", "color": "#c8c8c8", "strokeWidth": 1.5}, "encoding": {"y": {"datum": 0.55, "type": "quantitative", "scale": {"domain": [0, 1]}, "axis": null}}}
]},
{"spacing": 18, "hconcat": [
  {"width": 98, "height": 81, "view": {"stroke": null}, "data": {"name": "labels"}, "transform": [{"filter": "datum.p == 3"}], "mark": {"type": "text", "font": "Lato", "fontWeight": "bold", "fontSize": 22, "color": "#000000"}, "encoding": {"text": {"field": "label", "type": "nominal"}}},
  {"spacing": 34, "hconcat": [
    {"width": 236, "height": 81, "data": {"name": "series"}, "transform": [{"filter": "datum.p == 3"}], "mark": {"type": "line", "color": "#1f77b4", "strokeWidth": 0.7, "opacity": 0.8}, "encoding": {"x": {"field": "t", "type": "quantitative", "axis": null, "scale": {"domain": [-0.05, 1.05], "nice": false, "zero": false}}, "y": {"field": "v", "type": "quantitative", "axis": null, "scale": {"domain": [-1.1, 1.1], "nice": false, "zero": false}}}},
    {"width": 237, "height": 81, "view": {"stroke": "#b4b4b4"}, "data": {"name": "tf"}, "transform": [{"filter": "datum.p == 3"}], "mark": {"type": "rect", "strokeWidth": 1.2, "clip": true}, "encoding": {"x": {"field": "c", "type": "ordinal", "axis": null, "scale": {"paddingInner": 0, "paddingOuter": 0}}, "y": {"field": "r", "type": "ordinal", "axis": null, "scale": {"paddingInner": 0, "paddingOuter": 0}}, "color": {"field": "v", "type": "quantitative", "scale": {"scheme": "viridis", "domain": [0, 1]}, "legend": null}, "stroke": {"field": "v", "type": "quantitative", "scale": {"scheme": "viridis", "domain": [0, 1]}, "legend": null}}}
  ]}
]}
]
}
